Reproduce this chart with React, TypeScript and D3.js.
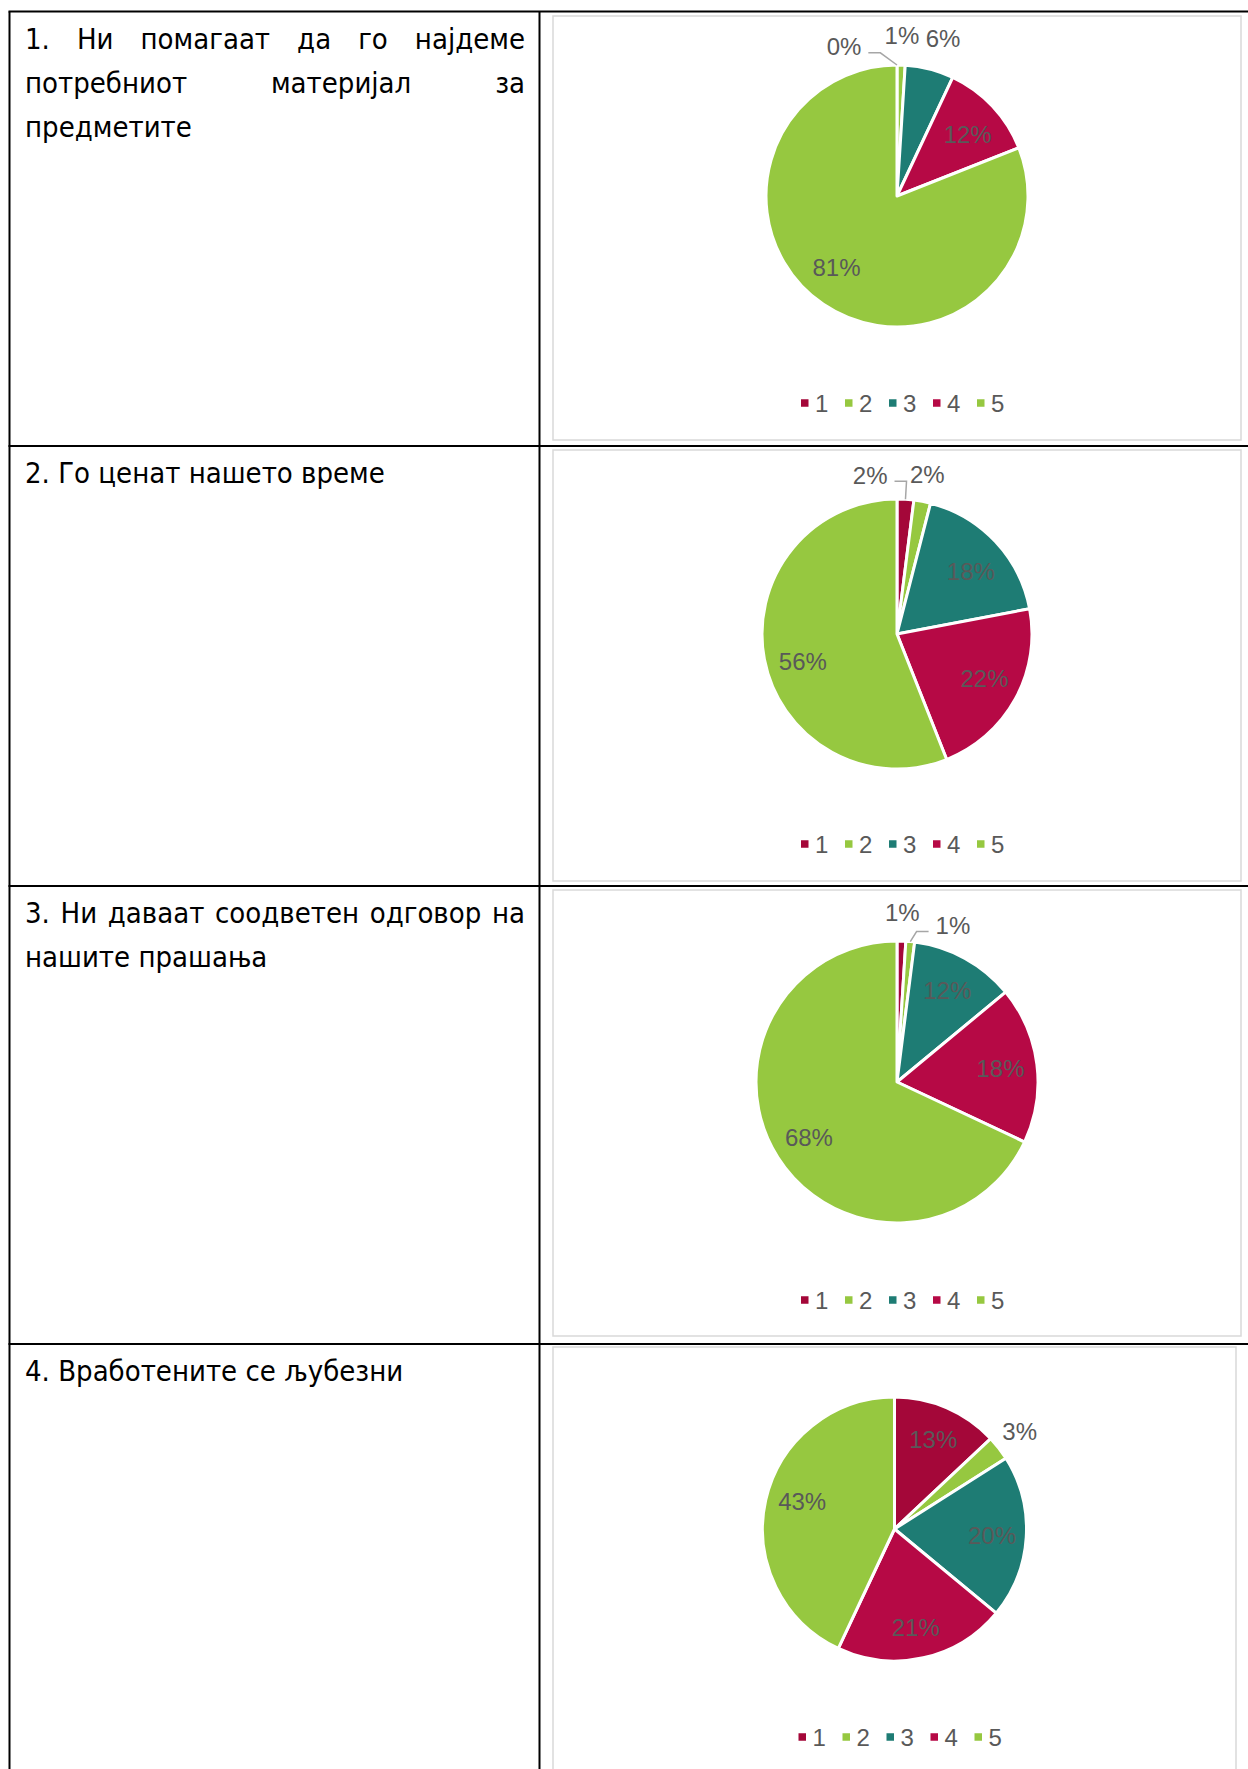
import { useRef, useEffect } from 'react';
import * as d3 from 'd3';

// legend categories (answer scale 1-5) and their slice colours
const CATEGORIES = ['1', '2', '3', '4', '5'];
const COLORS = ['#A40739', '#96C840', '#1E7C74', '#B60945', '#96C840'];

// question text, line by line as in the document (true = justified line)
const Q1_LINES: [string, boolean][] = [
  ['1. Ни помагаат да го најдеме', true],
  ['потребниот материјал за', true],
  ['предметите', false],
];
const Q2_LINES: [string, boolean][] = [['2. Го ценат нашето време', false]];
const Q3_LINES: [string, boolean][] = [
  ['3. Ни даваат соодветен одговор на', true],
  ['нашите прашања', false],
];
const Q4_LINES: [string, boolean][] = [['4. Вработените се љубезни', false]];

// percentages per answer 1..5
const Q1_VALUES = [0, 1, 6, 12, 81];
const Q2_VALUES = [2, 2, 18, 22, 56];
const Q3_VALUES = [1, 1, 12, 18, 68];
const Q4_VALUES = [13, 3, 20, 21, 43];

const QUESTIONS = [Q1_LINES, Q2_LINES, Q3_LINES, Q4_LINES];
const VALUES = [Q1_VALUES, Q2_VALUES, Q3_VALUES, Q4_VALUES];

// layout
const W = 1248;
const H = 1769;
const ROW_TOPS = [11.5, 446, 886, 1344];
const TABLE_LEFT = 9.5;
const COL_SPLIT = 539.5;
const TEXT_LEFT = 25;
const TEXT_RIGHT = 525;
const LINE_GAP = 44;

const BOXES = [
  { x0: 553, x1: 1241, y0: 16, y1: 440, cy: 196, r: 131, legendY: 403 },
  { x0: 553, x1: 1241, y0: 450, y1: 881, cy: 634, r: 135, legendY: 844 },
  { x0: 553, x1: 1241, y0: 890, y1: 1336, cy: 1082, r: 141, legendY: 1300 },
  { x0: 553, x1: 1236, y0: 1347, y1: 1790, cy: 1529, r: 132, legendY: 1737 },
];

// manual label nudges (Excel "best fit") for small outside labels
const NUDGES: Record<string, { dx: number; dy: number; leader?: boolean }> = {
  '0-0': { dx: -53, dy: 8, leader: true },
  '0-1': { dx: 0, dy: -3 },
  '0-2': { dx: 7, dy: -5 },
  '0-3': { dx: 0, dy: 5 },
  '0-4': { dx: -6, dy: -9 },
  '1-0': { dx: -37, dy: 3, leader: true },
  '1-2': { dx: 1, dy: 6 },
  '1-3': { dx: 0, dy: -4 },
  '1-4': { dx: 4, dy: 9 },
  '2-1': { dx: 40, dy: 12, leader: true },
  '3-3': { dx: 0, dy: 3 },
  '3-4': { dx: 3, dy: -6 },
};

const LABEL_FONT = "'Liberation Sans', Arial, sans-serif";
const TEXT_FONT = "'DejaVu Sans Condensed', 'DejaVu Sans', sans-serif";

export default function App() {
  const svgRef = useRef<SVGSVGElement>(null);

  useEffect(() => {
    if (!svgRef.current) return;
    const svg = d3.select(svgRef.current);
    svg.selectAll('*').remove();

    svg.append('rect').attr('width', W).attr('height', H).attr('fill', '#fff');

    // Chart frames
    BOXES.forEach(b => {
      svg.append('rect')
        .attr('x', b.x0).attr('y', b.y0)
        .attr('width', b.x1 - b.x0).attr('height', b.y1 - b.y0)
        .attr('fill', '#fff')
        .attr('stroke', '#D9D9D9').attr('stroke-width', 1.5);
    });

    // Table grid
    const grid = svg.append('g').attr('stroke', '#000').attr('stroke-width', 2);
    ROW_TOPS.forEach(y => {
      grid.append('line').attr('x1', TABLE_LEFT - 1).attr('x2', W).attr('y1', y).attr('y2', y);
    });
    grid.append('line').attr('x1', TABLE_LEFT).attr('x2', TABLE_LEFT).attr('y1', ROW_TOPS[0]).attr('y2', H);
    grid.append('line').attr('x1', COL_SPLIT).attr('x2', COL_SPLIT).attr('y1', ROW_TOPS[0]).attr('y2', H);

    // Question text
    QUESTIONS.forEach((lines, qi) => {
      const g = svg.append('g')
        .attr('font-family', TEXT_FONT)
        .attr('font-size', 29)
        .attr('fill', '#000');
      lines.forEach(([txt, justify], li) => {
        const y = ROW_TOPS[qi] + 37 + li * LINE_GAP;
        if (!justify) {
          g.append('text').attr('x', TEXT_LEFT).attr('y', y).text(txt);
          return;
        }
        const words = txt.split(' ');
        const nodes = words.map(w => g.append('text').attr('y', y).text(w));
        const widths = nodes.map(n => (n.node() as SVGTextElement).getComputedTextLength());
        const gap = (TEXT_RIGHT - TEXT_LEFT - d3.sum(widths)) / (words.length - 1);
        let x = TEXT_LEFT;
        nodes.forEach((n, i) => {
          n.attr('x', x);
          x += widths[i] + gap;
        });
      });
    });

    // Pies
    const pie = d3.pie<number>().sort(null).value(d => d);

    VALUES.forEach((vals, qi) => {
      const b = BOXES[qi];
      const cx = (b.x0 + b.x1) / 2;
      const g = svg.append('g').attr('transform', `translate(${cx},${b.cy})`);
      const arcs = pie(vals);
      const arc = d3.arc<d3.PieArcDatum<number>>().innerRadius(0).outerRadius(b.r);

      g.selectAll('path.slice')
        .data(arcs)
        .join('path')
        .attr('class', 'slice')
        .attr('d', arc)
        .attr('fill', (_, i) => COLORS[i])
        .attr('stroke', '#fff')
        .attr('stroke-width', 3)
        .attr('stroke-linejoin', 'round');

      arcs.forEach((a, i) => {
        const mid = (a.startAngle + a.endAngle) / 2;
        const outside = a.data < 10;
        const rr = outside ? b.r * 1.2 : b.r * 0.74;
        const nudge = NUDGES[`${qi}-${i}`] ?? { dx: 0, dy: 0 };
        const lx = Math.sin(mid) * rr + nudge.dx;
        const ly = -Math.cos(mid) * rr + nudge.dy;

        const t = g.append('text')
          .attr('x', lx).attr('y', ly)
          .attr('text-anchor', 'middle')
          .attr('dominant-baseline', 'central')
          .attr('font-family', LABEL_FONT)
          .attr('font-size', 24)
          .attr('fill', '#595959')
          .text(`${a.data}%`);

        if (nudge.leader) {
          const tw = (t.node() as SVGTextElement).getComputedTextLength();
          const ex = Math.sin(mid) * b.r;
          const ey = -Math.cos(mid) * b.r;
          const dir = nudge.dx < 0 ? 1 : -1;
          const sx = lx + dir * (tw / 2 + 7);
          const sy = ly + 6;
          g.append('polyline')
            .attr('points', [[sx, sy], [sx + dir * 12, sy], [ex, ey]].map(p => p.join(',')).join(' '))
            .attr('fill', 'none')
            .attr('stroke', '#A6A6A6')
            .attr('stroke-width', 1.5);
        }
      });

      // Legend
      const lg = svg.append('g').attr('transform', `translate(${cx - 96},${b.legendY})`);
      CATEGORIES.forEach((c, i) => {
        lg.append('rect')
          .attr('x', i * 44).attr('y', -3.75)
          .attr('width', 7.5).attr('height', 7.5)
          .attr('fill', COLORS[i]);
        lg.append('text')
          .attr('x', i * 44 + 14).attr('y', 0)
          .attr('dominant-baseline', 'central')
          .attr('font-family', LABEL_FONT)
          .attr('font-size', 24)
          .attr('fill', '#595959')
          .text(c);
      });
    });
  }, []);

  return (
    <svg
      ref={svgRef}
      width={W}
      height={H}
      style={{ position: 'absolute', left: 0, top: 0, display: 'block' }}
    />
  );
}
